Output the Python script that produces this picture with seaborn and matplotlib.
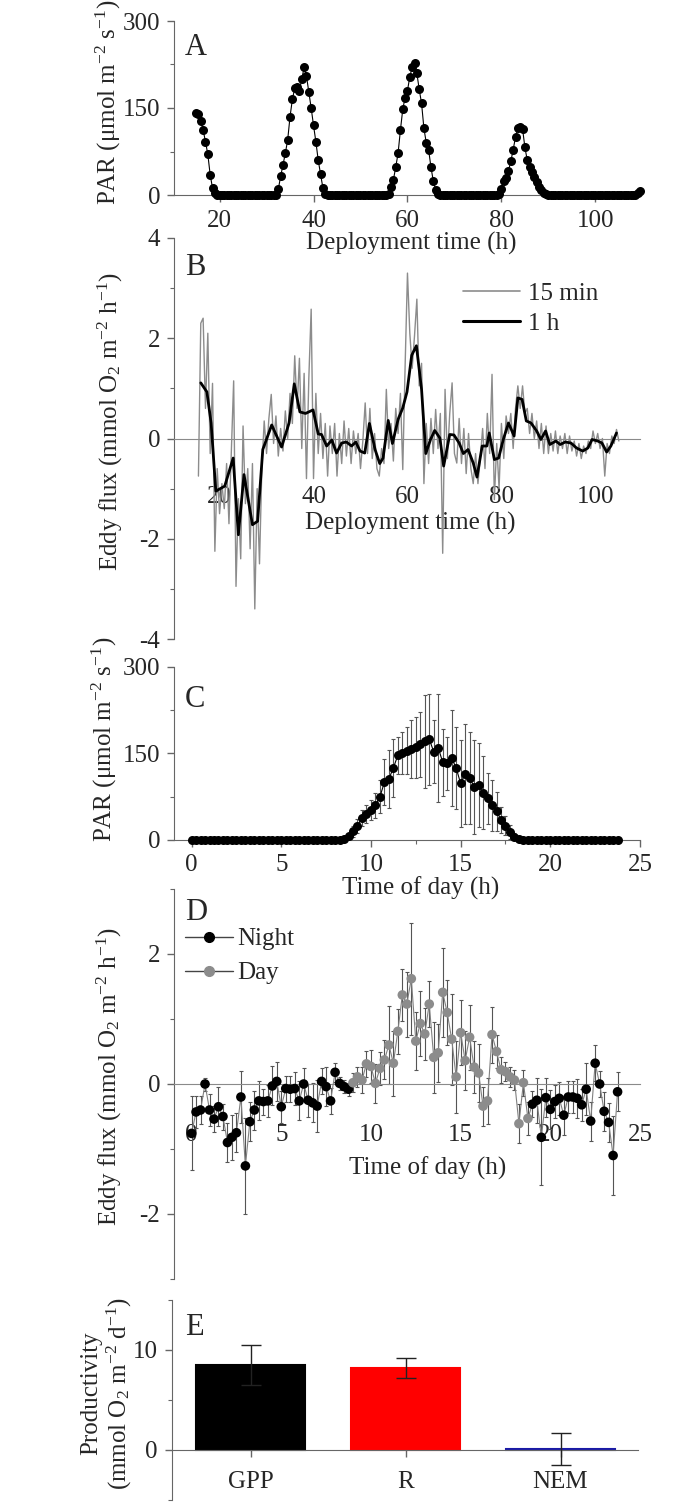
import numpy as np
import pandas as pd
import seaborn as sns
import matplotlib.pyplot as plt
from matplotlib.ticker import MultipleLocator
from matplotlib.lines import Line2D

# A: PAR over the deployment, one reading every half hour from 15 h
par_start = 15.0
par_values = [141, 139, 128, 112, 92, 70, 35, 12, 4, 0,
              0, 0, 0, 0, 0, 0, 0, 0, 0, 0,
              0, 0, 0, 0, 0, 0, 0, 0, 0, 0,
              0, 0, 0, 0, 0, 10, 32, 52, 72, 95,
              135, 165, 184, 186, 180, 200, 220, 205, 178, 150,
              120, 92, 60, 36, 12, 2, 0, 0, 0, 0,
              0, 0, 0, 0, 0, 0, 0, 0, 0, 0,
              0, 0, 0, 0, 0, 0, 0, 0, 0, 0,
              0, 0, 2, 14, 26, 48, 72, 112, 148, 168,
              180, 204, 220, 228, 210, 182, 158, 115, 90, 78,
              48, 24, 9, 1, 0, 0, 0, 0, 0, 0,
              0, 0, 0, 0, 0, 0, 0, 0, 0, 0,
              0, 0, 0, 0, 0, 0, 0, 0, 0, 2,
              10, 24, 30, 42, 58, 78, 100, 115, 118, 114,
              82, 60, 49, 40, 31, 22, 13, 8, 4, 1,
              0, 0, 0, 0, 0, 0, 0, 0, 0, 0,
              0, 0, 0, 0, 0, 0, 0, 0, 0, 0,
              0, 0, 0, 0, 0, 0, 0, 0, 0, 0,
              0, 0, 0, 0, 0, 0, 0, 0, 3, 7]

# B: eddy flux, fast series (every half hour from 15.5 h) and hourly series
flux_fast_start = 15.5
flux_fast = [-0.75, 2.3, 2.4, 0.6, 2.1, -0.3, 1.1, -2.25, -0.6, -1.5,
             -0.9, -1.4, -0.5, -1.7, -0.3, 1.15, -2.95, -1.2, -2.4, 0.25,
             -1.3, -0.6, -2.2, -0.5, -3.4, -1.0, -2.5, -0.6, 0.35, -0.3,
             0.4, 0.88, -0.1, 0.45, -0.35, 0.2, -0.25, 0.55, 0.0, 0.9,
             0.3, 1.65, 0.6, 1.6, -0.2, 1.3, -0.8, 1.2, 2.58, -0.8,
             0.9, -0.3, 0.5, -0.4, 0.3, -0.75, 0.25, -0.3, 0.3, -0.75,
             0.1, -0.5, 0.35, -0.35, 0.2, -0.5, 0.15, -0.3, 0.1, -0.6,
             -0.05, 0.71, -0.3, 0.6, -0.4, 0.1, -0.6, -0.75, -0.2, -0.5,
             0.98, -0.2, 0.3, -0.45, 0.6, 0.1, 0.9, -0.62, 1.45, 3.3,
             2.1, 1.4, 2.05, 2.78, 1.05, 1.5, -0.9, 0.3, -0.5, 0.4,
             -0.3, 0.58, -0.2, 0.5, -2.29, 0.98, -0.4, 0.5, 1.11, -0.3,
             -0.49, 0.4, -0.5, 0.2, -0.7, 0.1, -0.6, -0.9, -0.3, -0.9,
             -0.4, 0.2, -0.6, 0.5, -0.3, 1.28, -1.22, -0.1, -1.0, 0.3,
             -0.4, 0.45, 0.1, 0.5, -0.2, 0.6, 1.05, 0.6, 1.05, 0.5,
             0.6, 0.1, 0.5, 0.0, 0.35, -0.2, 0.3, -0.3, 0.25, -0.3,
             0.1, -0.25, 0.15, -0.3, 0.05, -0.2, 0.1, -0.3, 0.05, -0.25,
             -0.05, -0.35, -0.1, -0.4, -0.15, -0.3, -0.05, -0.2, 0.15, -0.1,
             0.1, -0.2, 0.0, -0.75, -0.1, -0.3, 0.05, -0.1, 0.18, -0.05]

flux_1h_time = [16.0, 17.3, 18.2, 19.2, 21.1, 22.9, 24.0, 25.2, 27.0, 28.1,
                29.2, 31.1, 33.2, 34.8, 35.9, 37.1, 38.3, 39.9, 41.0, 41.7,
                42.8, 43.9, 44.9, 46.0, 47.0, 48.1, 49.0, 49.9, 50.9, 51.9,
                53.1, 54.1, 54.8, 55.9, 56.8, 58.0, 59.0, 59.9, 60.9, 61.9,
                63.0, 63.9, 64.9, 65.8, 66.9, 67.7, 69.0, 69.9, 71.0, 71.9,
                72.9, 74.0, 74.8, 75.9, 76.9, 77.4, 78.5, 79.4, 80.4, 81.5,
                82.7, 83.5, 84.4, 85.3, 86.3, 87.5, 88.4, 89.4, 90.3, 91.6,
                92.5, 93.6, 94.8, 96.0, 97.3, 98.4, 99.3, 100.5, 101.4, 102.4,
                103.3, 104.5]
flux_1h = [1.11, 0.93, 0.31, -1.05, -0.95, -0.39, -1.92, -0.72, -1.72, -1.65,
           -0.22, 0.27, -0.17, 0.31, 1.09, 0.53, 0.50, 0.57, 0.09, 0.08,
           -0.15, -0.03, -0.29, -0.09, -0.07, -0.15, -0.07, -0.25, -0.29, 0.30,
           -0.22, -0.50, -0.39, 0.36, -0.10, 0.38, 0.61, 0.93, 1.66, 1.85,
           0.98, -0.30, -0.02, 0.16, 0.01, -0.55, 0.08, 0.07, -0.09, -0.30,
           -0.22, -0.49, -0.77, -0.15, -0.15, 0.11, -0.42, -0.39, -0.02, 0.31,
           0.05, 0.81, 0.78, 0.35, 0.31, 0.15, -0.02, 0.15, -0.12, -0.05,
           -0.12, -0.07, -0.09, -0.19, -0.25, -0.19, -0.02, -0.05, -0.09, -0.27,
           -0.15, 0.11]

# C: mean diel PAR, 15 min bins from midnight
diel_par = [0, 0, 0, 0, 0, 0, 0, 0,
            0, 0, 0, 0, 0, 0, 0, 0,
            0, 0, 0, 0, 0, 0, 0, 0,
            0, 0, 0, 0, 0, 0, 0, 0,
            0, 0, 2, 7, 15, 25, 38, 45,
            52, 60, 75, 100, 106, 125, 147, 151,
            155, 158, 161, 166, 171, 175, 153, 160,
            135, 133, 142, 125, 98, 115, 108, 92,
            95, 82, 72, 60, 50, 35, 25, 14,
            6, 2, 0, 0, 0, 0, 0, 0,
            0, 0, 0, 0, 0, 0, 0, 0,
            0, 0, 0, 0, 0, 0, 0, 0]
diel_par_sd = [0, 0, 0, 0, 0, 0, 0, 0,
               0, 0, 0, 0, 0, 0, 0, 0,
               0, 0, 0, 0, 0, 0, 0, 0,
               0, 0, 0, 0, 0, 0, 0, 0,
               0, 0, 2, 4, 10, 12, 14, 16,
               18, 22, 29, 40, 50, 51, 32, 36,
               41, 50, 53, 56, 80, 79, 55, 94,
               58, 46, 83, 71, 75, 87, 80, 81,
               73, 63, 44, 44, 34, 23, 16, 12,
               6, 2, 0, 0, 0, 0, 0, 0,
               0, 0, 0, 0, 0, 0, 0, 0,
               0, 0, 0, 0, 0, 0, 0, 0]

# D: mean diel eddy flux, 15 min bins
diel_flux = [-0.76, -0.43, -0.40, 0.00, -0.40, -0.54, -0.35, -0.50,
             -0.90, -0.82, -0.75, -0.20, -1.26, -0.58, -0.40, -0.26,
             -0.27, -0.26, -0.03, 0.04, -0.35, -0.07, -0.08, -0.07,
             -0.26, 0.00, -0.25, -0.29, -0.34, 0.04, -0.04, -0.26,
             0.18, 0.01, -0.04, -0.08, 0.02, 0.11, 0.06, 0.31,
             0.27, 0.01, 0.24, 0.37, 0.60, 0.32, 0.81, 1.37,
             1.23, 1.62, 0.66, 0.93, 0.77, 1.23, 0.41, 0.48,
             1.41, 1.10, 0.69, 0.11, 0.79, 0.36, 0.72, 0.26,
             0.17, -0.34, -0.26, 0.76, 0.50, 0.22, 0.19, 0.11,
             0.06, -0.61, 0.02, -0.53, -0.31, -0.25, -0.82, -0.21,
             -0.39, -0.27, -0.22, -0.48, -0.20, -0.20, -0.22, -0.32,
             -0.08, -0.57, 0.32, 0.00, -0.42, -0.59, -1.10, -0.12]
diel_flux_sd = [0.57, 0.25, 0.22, 0.10, 0.25, 0.20, 0.30, 0.20,
                0.30, 0.35, 0.30, 0.40, 0.74, 0.30, 0.30, 0.30,
                0.20, 0.25, 0.30, 0.30, 0.25, 0.20, 0.20, 0.25,
                0.30, 0.25, 0.25, 0.30, 0.40, 0.20, 0.30, 0.20,
                0.15, 0.10, 0.10, 0.10, 0.15, 0.15, 0.20, 0.20,
                0.25, 0.30, 0.25, 0.30, 0.60, 0.50, 0.35, 0.40,
                0.50, 0.86, 0.45, 0.50, 0.40, 0.35, 0.55, 0.45,
                0.68, 0.50, 0.70, 0.55, 0.50, 0.45, 0.50, 0.40,
                0.45, 0.30, 0.35, 0.43, 0.25, 0.20, 0.15, 0.15,
                0.15, 0.30, 0.20, 0.25, 0.20, 0.35, 0.74, 0.30,
                0.30, 0.25, 0.25, 0.30, 0.25, 0.25, 0.30, 0.25,
                0.40, 0.30, 0.28, 0.20, 0.30, 0.30, 0.61, 0.30]
day_start, day_end = 9.0, 18.75

# E: daily productivity
prod_labels = ["GPP", "R", "NEM"]
prod_values = [8.5, 8.2, 0.15]
prod_err = [2.0, 1.0, 1.6]
prod_colors = ["black", "#ff0000", "#1a1aa6"]

sns.set_style("ticks")
plt.rcParams["font.family"] = ["Liberation Serif", "DejaVu Serif"]
plt.rcParams["mathtext.fontset"] = "custom"
plt.rcParams["mathtext.rm"] = "Liberation Serif"
plt.rcParams["mathtext.it"] = "Liberation Serif:italic"
plt.rcParams["axes.unicode_minus"] = False
plt.rcParams["font.size"] = 18

AXC = "#666666"
ZC = "#8a8a8a"
W, H = 700, 1507


def box(l, t, r, b):
    return [l / W, 1 - b / H, (r - l) / W, (b - t) / H]


def style(ax, xpad, bottom_color=AXC, xticks=True):
    sns.despine(ax=ax)
    ax.patch.set_alpha(0)
    ax.spines["left"].set_color(AXC)
    ax.spines["bottom"].set_color(bottom_color)
    ax.spines["bottom"].set_position(("data", 0))
    ax.tick_params(which="major", length=5, width=1, color=AXC, labelsize=18)
    ax.tick_params(which="minor", length=3, width=0.8, color=AXC)
    ax.tick_params(axis="x", which="major", pad=xpad)
    ax.tick_params(axis="y", which="major", pad=5)
    if not xticks:
        ax.tick_params(axis="x", which="both", length=0, pad=xpad + 4)


par_lab = "PAR (μmol m$^{-2}$ s$^{-1}$)"
flux_lab = "Eddy flux (mmol O$_2$ m$^{-2}$ h$^{-1}$)"

fig = plt.figure(figsize=(7, 15.07), dpi=100)

# ---- A
axA = fig.add_axes(box(174, 21, 640, 195))
par_time = par_start + 0.5 * np.arange(len(par_values))
sns.lineplot(x=par_time, y=par_values, ax=axA, color="black", lw=0.8,
             marker="o", markersize=6.5, markeredgewidth=0, estimator=None,
             clip_on=False, zorder=3)
axA.set_xlim(10.3, 109.5)
axA.set_ylim(0, 300)
axA.xaxis.set_major_locator(MultipleLocator(20))
axA.yaxis.set_major_locator(MultipleLocator(150))
axA.yaxis.set_minor_locator(MultipleLocator(75))
style(axA, 6)
axA.set_xlabel("Deployment time (h)", fontsize=18)
axA.set_ylabel(par_lab, fontsize=18)
axA.xaxis.set_label_coords(0.51, -0.21)
axA.yaxis.set_label_coords(-0.109, 0.53)
axA.text(0.024, 0.93, "A", transform=axA.transAxes, fontsize=22, va="top")

# ---- B
axB = fig.add_axes(box(174, 238, 640, 639))
fast_time = flux_fast_start + 0.5 * np.arange(len(flux_fast))
sns.lineplot(x=fast_time, y=flux_fast, ax=axB, color="#8c8c8c", lw=1.0,
             estimator=None, zorder=3)
sns.lineplot(x=flux_1h_time, y=flux_1h, ax=axB, color="black", lw=2.0,
             estimator=None, zorder=4)
axB.set_xlim(10.3, 109.5)
axB.set_ylim(-4, 4)
axB.xaxis.set_major_locator(MultipleLocator(20))
axB.yaxis.set_major_locator(MultipleLocator(2))
axB.yaxis.set_minor_locator(MultipleLocator(1))
style(axB, 30, ZC, xticks=False)
axB.set_xlabel("Deployment time (h)", fontsize=18)
axB.set_ylabel(flux_lab, fontsize=18)
axB.xaxis.set_label_coords(0.506, 0.316)
axB.yaxis.set_label_coords(-0.105, 0.541)
axB.text(0.024, 0.963, "B", transform=axB.transAxes, fontsize=22, va="top")
hB = [Line2D([0], [0], color="#8c8c8c", lw=1.2),
      Line2D([0], [0], color="black", lw=2.2)]
axB.legend(hB, ["15 min", "1 h"], loc="upper left", bbox_to_anchor=(0.62, 0.89),
           frameon=False, fontsize=18, handlelength=2.3, handletextpad=0.3,
           labelspacing=0.3, borderpad=0, borderaxespad=0)

# ---- C
tod = 0.25 * np.arange(len(diel_par))
axC = fig.add_axes(box(174, 667, 640, 840))
axC.errorbar(tod, diel_par, yerr=diel_par_sd, fmt="none", ecolor="#555555",
             elinewidth=0.8, capsize=1.5, capthick=0.8, zorder=2)
sns.lineplot(x=tod, y=diel_par, ax=axC, color="black", lw=0.8, marker="o",
             markersize=6.5, markeredgewidth=0, estimator=None, clip_on=False,
             zorder=3)
axC.set_xlim(-0.98, 25)
axC.set_ylim(0, 300)
axC.xaxis.set_major_locator(MultipleLocator(5))
axC.xaxis.set_minor_locator(MultipleLocator(2.5))
axC.yaxis.set_major_locator(MultipleLocator(150))
axC.yaxis.set_minor_locator(MultipleLocator(75))
style(axC, 5)
axC.set_xlabel("Time of day (h)", fontsize=18)
axC.set_ylabel(par_lab, fontsize=18)
axC.xaxis.set_label_coords(0.53, -0.21)
axC.yaxis.set_label_coords(-0.118, 0.58)
axC.text(0.024, 0.896, "C", transform=axC.transAxes, fontsize=22, va="top")

# ---- D
axD = fig.add_axes(box(174, 889, 640, 1279))
dfD = pd.DataFrame({"t": tod, "flux": diel_flux, "sd": diel_flux_sd})
dfD["period"] = np.where((dfD.t >= day_start) & (dfD.t <= day_end), "Day", "Night")
axD.errorbar(dfD.t, dfD.flux, yerr=dfD.sd, fmt="none", ecolor="#555555",
             elinewidth=0.8, capsize=1.5, capthick=0.8, zorder=2)
sns.lineplot(data=dfD, x="t", y="flux", ax=axD, color="#808080", lw=0.8,
             estimator=None, zorder=3)
sns.scatterplot(data=dfD, x="t", y="flux", hue="period", ax=axD,
                palette={"Night": "black", "Day": "#8c8c8c"}, s=48,
                edgecolor="none", legend=False, zorder=4)
axD.set_xlim(-0.98, 25)
axD.set_ylim(-3, 3)
axD.xaxis.set_major_locator(MultipleLocator(5))
axD.yaxis.set_major_locator(MultipleLocator(2))
axD.yaxis.set_minor_locator(MultipleLocator(1))
style(axD, 25, ZC, xticks=False)
axD.set_xlabel("Time of day (h)", fontsize=18)
axD.set_ylabel(flux_lab, fontsize=18)
axD.xaxis.set_label_coords(0.545, 0.315)
axD.yaxis.set_label_coords(-0.107, 0.518)
axD.text(0.024, 0.977, "D", transform=axD.transAxes, fontsize=22, va="top")
hD = [Line2D([0], [0], color="#444444", lw=1, marker="o", markersize=7,
             markerfacecolor="black", markeredgecolor="black"),
      Line2D([0], [0], color="#444444", lw=1, marker="o", markersize=7,
             markerfacecolor="#8c8c8c", markeredgecolor="#8c8c8c")]
axD.legend(hD, ["Night", "Day"], loc="upper left", bbox_to_anchor=(0.024, 0.9),
           frameon=False, fontsize=18, handlelength=1.9, handletextpad=0.2,
           labelspacing=0.45, borderpad=0, borderaxespad=0)

# ---- E
axE = fig.add_axes(box(171.5, 1300, 638, 1500))
sns.barplot(x=prod_labels, y=prod_values, hue=prod_labels, palette=prod_colors,
            saturation=1, legend=False, width=0.7, ax=axE, zorder=2)
for patch, c in zip(axE.patches, prod_colors):
    patch.set_edgecolor(c)
    patch.set_linewidth(1.5)
axE.errorbar(np.arange(len(prod_values)), prod_values, yerr=prod_err, fmt="none",
             ecolor="#222222", elinewidth=1, capsize=7, capthick=1, zorder=4)
axE.set_xlim(-0.51, 2.5)
axE.set_ylim(-5, 15)
axE.yaxis.set_major_locator(MultipleLocator(10))
axE.yaxis.set_minor_locator(MultipleLocator(5))
style(axE, 10)
axE.set_xlabel("")
axE.set_ylabel("Productivity\n(mmol O$_2$ m$^{-2}$ d$^{-1}$)", fontsize=18,
               linespacing=1.1)
axE.yaxis.set_label_coords(-0.081, 0.535)
axE.text(0.029, 0.935, "E", transform=axE.transAxes, fontsize=22, va="top")

fig.savefig("out.png", dpi=100)
